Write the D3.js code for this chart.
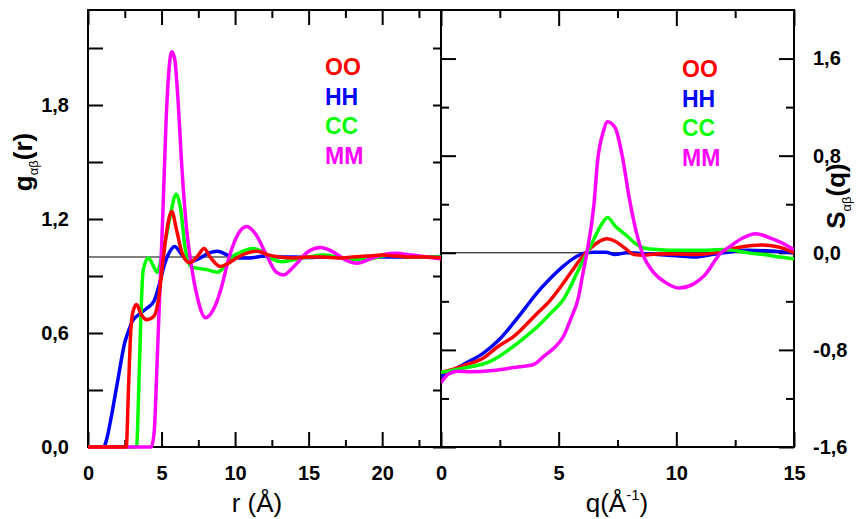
<!DOCTYPE html>
<html>
<head>
<meta charset="utf-8">
<script src="https://cdnjs.cloudflare.com/ajax/libs/d3/7.8.5/d3.min.js"></script>
<style>
body { margin: 0; background: #fff; }
</style>
</head>
<body>
<div class="wrapper"></div>
<script>
// g(r) curves, [r, g]
var gOO = [[0,0],[2.6,0],[2.75,0.3],[2.9,0.6],[3.05,0.71],[3.3,0.75],[3.6,0.7],[4.0,0.67],[4.5,0.69],[4.8,0.78],[5.1,0.98],[5.4,1.16],[5.7,1.24],[6.0,1.15],[6.4,1.02],[6.9,0.97],[7.4,1.0],[7.9,1.045],[8.3,1.0],[9.0,0.95],[9.5,0.965],[10.0,0.99],[10.8,1.02],[11.5,1.03],[12.3,1.01],[13,1.0],[14,0.995],[15,1.0],[16,1.0],[17,0.995],[18,1.0],[19,1.005],[20,1.01],[21,1.005],[22,1.0],[23,1.0],[24,0.995]];
var gHH = [[0,0],[1.05,0],[1.3,0.05],[1.5,0.125],[2.0,0.34],[2.5,0.55],[2.8,0.62],[3.0,0.66],[3.5,0.7],[4.0,0.73],[4.5,0.77],[4.9,0.87],[5.2,0.96],[5.5,1.02],[5.9,1.055],[6.3,1.02],[6.9,0.975],[7.5,0.99],[8.2,1.02],[8.8,1.03],[9.5,1.01],[10.3,0.995],[11,0.995],[12,1.005],[13,1.0],[14,1.0],[15,0.998],[16,1.0],[18,0.995],[20,1.0],[22,1.0],[24,1.0]];
var gCC = [[0,0],[3.3,0],[3.45,0.3],[3.6,0.7],[3.75,0.93],[4.1,0.995],[4.4,0.96],[4.7,0.92],[5.0,1.0],[5.3,1.1],[5.6,1.22],[6.0,1.33],[6.3,1.25],[6.6,1.05],[7.0,0.95],[7.5,0.94],[8.0,0.935],[8.8,0.92],[9.3,0.95],[9.8,1.0],[10.5,1.03],[11.2,1.045],[11.8,1.03],[12.5,0.99],[13.2,0.975],[14,0.985],[15,1.0],[16,1.01],[17,1.0],[18.5,0.985],[19.5,0.995],[20.5,1.01],[22,1.0],[24,1.0]];
var gMM = [[0,0],[4.3,0],[4.5,0.08],[4.7,0.45],[4.9,0.85],[5.1,1.25],[5.3,1.7],[5.5,1.98],[5.7,2.08],[5.9,2.04],[6.1,1.85],[6.4,1.45],[6.7,1.15],[7.0,0.97],[7.4,0.8],[8.0,0.68],[8.5,0.72],[9.0,0.82],[9.6,1.0],[10.2,1.12],[10.8,1.16],[11.4,1.12],[12.2,1.0],[12.8,0.92],[13.3,0.905],[14.0,0.95],[15.0,1.03],[15.8,1.05],[16.6,1.03],[17.5,0.985],[18.3,0.967],[19.2,0.99],[20.2,1.015],[20.9,1.02],[22,1.01],[23,1.0],[24,0.99]];

// S(q) curves, [q, S]
var sOO = [[0,-0.985],[0.5,-0.96],[0.95,-0.93],[1.8,-0.867],[2.44,-0.77],[3.08,-0.69],[4.08,-0.5],[4.6,-0.4],[5.2,-0.25],[5.6,-0.14],[5.92,-0.055],[6.3,0.03],[6.7,0.09],[7.05,0.115],[7.4,0.095],[7.8,0.04],[8.2,-0.014],[8.6,-0.02],[9.2,-0.01],[10,-0.01],[10.8,-0.015],[11.5,-0.005],[12.2,0.025],[12.8,0.05],[13.6,0.065],[14.3,0.05],[15,0.0]];
var sHH = [[0,-1.02],[0.5,-0.97],[0.95,-0.92],[1.8,-0.826],[2.5,-0.71],[3.08,-0.578],[3.6,-0.45],[4.08,-0.33],[4.6,-0.22],[5.2,-0.11],[5.6,-0.05],[6.06,-0.005],[6.5,0.005],[7.0,0.005],[7.4,-0.014],[7.9,0.0],[8.5,-0.005],[9.2,-0.015],[10,-0.025],[10.8,-0.035],[11.5,-0.015],[12.2,0.005],[13,0.02],[14,0.015],[15,0.0]];
var sCC = [[0,-0.985],[0.95,-0.95],[2.09,-0.895],[3.08,-0.77],[3.6,-0.69],[4.2,-0.59],[4.7,-0.49],[5.2,-0.385],[5.5,-0.28],[5.78,-0.165],[6.21,0.0],[6.49,0.11],[6.78,0.22],[7.08,0.29],[7.4,0.22],[7.9,0.14],[8.3,0.07],[8.62,0.04],[9.3,0.025],[10,0.02],[11,0.02],[12,0.027],[12.6,0.015],[13.2,-0.005],[13.7,-0.014],[14.4,-0.035],[15,-0.05]];
var sMM = [[0,-1.07],[0.3,-1.0],[0.7,-0.975],[1.23,-0.98],[2.2,-0.97],[3.1,-0.945],[3.93,-0.92],[4.36,-0.854],[4.8,-0.785],[5.2,-0.69],[5.5,-0.55],[5.85,-0.36],[6.0,-0.2],[6.2,0.0],[6.5,0.4],[6.65,0.75],[6.9,1.0],[7.08,1.08],[7.4,1.03],[7.7,0.8],[8.0,0.45],[8.3,0.17],[8.55,0.0],[9.05,-0.165],[9.5,-0.24],[10.1,-0.29],[10.7,-0.26],[11.18,-0.19],[11.9,0.0],[12.3,0.055],[12.8,0.12],[13.38,0.157],[14.0,0.12],[14.5,0.08],[15,0.025]];

var names = ["OO", "HH", "CC", "MM"];
var colors = {OO: "#ff0000", HH: "#0000ff", CC: "#00ff00", MM: "#ff00ff"};

var rMajor = [0, 5, 10, 15, 20], rMinor = [2.5, 7.5, 12.5, 17.5, 22.5];
var gMajor = [0, 0.6, 1.2, 1.8], gMinor = [0.3, 0.9, 1.5, 2.1];
var qMajor = [0, 5, 10, 15], qMinor = [2.5, 7.5, 12.5];
var sMajor = [-1.6, -0.8, 0, 0.8, 1.6], sMinor = [-1.2, -0.4, 0.4, 1.2];

var FONT = "'Liberation Sans', Arial, Helvetica, sans-serif";
var yTop = 10, yBot = 447;

function comma(v) {
    return (v < 0 ? "-" : "") + Math.abs(v).toFixed(1).replace(".", ",");
}

var svg = d3.select(".wrapper").append("svg")
    .attr("width", 860)
    .attr("height", 519)
    .style("display", "block");

var x1 = d3.scaleLinear().domain([0, 24]).range([88, 441]);
var y1 = d3.scaleLinear().domain([0, 2.3]).range([yBot, yTop]);
var x2 = d3.scaleLinear().domain([0, 15]).range([441, 794]);
var y2 = d3.scaleLinear().domain([-1.6, 2.0]).range([yBot, yTop]);

function axisStyle(sel) {
    sel.select(".domain").remove();
    sel.attr("font-family", FONT).attr("font-size", 20).attr("font-weight", "bold");
    sel.selectAll(".tick line").attr("stroke", "#000").attr("stroke-width", 2);
    sel.selectAll(".tick text").attr("fill", "#000");
}

function addAxis(axis, tx, ty) {
    svg.append("g")
        .attr("transform", "translate(" + tx + "," + ty + ")")
        .call(axis)
        .call(axisStyle);
}

// left panel axes
addAxis(d3.axisBottom(x1).tickValues(rMajor).tickSize(-15).tickPadding(19).tickFormat(d3.format("d")), 0, yBot);
addAxis(d3.axisBottom(x1).tickValues(rMinor).tickSize(-7).tickFormat(""), 0, yBot);
addAxis(d3.axisTop(x1).tickValues(rMajor).tickSize(-15).tickFormat(""), 0, yTop);
addAxis(d3.axisTop(x1).tickValues(rMinor).tickSize(-8).tickFormat(""), 0, yTop);
addAxis(d3.axisLeft(y1).tickValues(gMajor).tickSize(-15).tickPadding(19).tickFormat(comma), 88, 0);
addAxis(d3.axisLeft(y1).tickValues(gMinor).tickSize(-15).tickFormat(""), 88, 0);
addAxis(d3.axisRight(y1).tickValues(gMajor.concat(gMinor)).tickSize(-8).tickFormat(""), 441, 0);

// right panel axes
addAxis(d3.axisBottom(x2).tickValues(qMajor).tickSize(-15).tickPadding(19).tickFormat(d3.format("d")), 0, yBot);
addAxis(d3.axisBottom(x2).tickValues(qMinor).tickSize(-7).tickFormat(""), 0, yBot);
addAxis(d3.axisTop(x2).tickValues(qMajor).tickSize(-16).tickFormat(""), 0, yTop);
addAxis(d3.axisTop(x2).tickValues(qMinor).tickSize(-8).tickFormat(""), 0, yTop);
addAxis(d3.axisRight(y2).tickValues(sMajor).tickSize(-15).tickPadding(19).tickFormat(comma), 794, 0);
addAxis(d3.axisRight(y2).tickValues(sMinor).tickSize(-8).tickFormat(""), 794, 0);
addAxis(d3.axisLeft(y2).tickValues(sMajor).tickSize(-15).tickFormat(""), 441, 0);
addAxis(d3.axisLeft(y2).tickValues(sMinor).tickSize(-8).tickFormat(""), 441, 0);

// clip regions (a little slack so lines lying on the axis keep full width)
var defs = svg.append("defs");
defs.append("clipPath").attr("id", "clipL").append("rect")
    .attr("x", 88).attr("y", yTop - 3).attr("width", 441 - 88).attr("height", yBot - yTop + 6);
defs.append("clipPath").attr("id", "clipR").append("rect")
    .attr("x", 441).attr("y", yTop - 3).attr("width", 794 - 441).attr("height", yBot - yTop + 6);

// reference lines g=1 and S=0
svg.append("line")
    .attr("x1", x1(0)).attr("x2", x1(24))
    .attr("y1", y1(1)).attr("y2", y1(1))
    .attr("stroke", "#000").attr("stroke-width", 1);
svg.append("line")
    .attr("x1", x2(0)).attr("x2", x2(15))
    .attr("y1", y2(0)).attr("y2", y2(0))
    .attr("stroke", "#000").attr("stroke-width", 1);

var lineL = d3.line().x(function(d) { return x1(d[0]); }).y(function(d) { return y1(d[1]); }).curve(d3.curveMonotoneX);
var lineR = d3.line().x(function(d) { return x2(d[0]); }).y(function(d) { return y2(d[1]); }).curve(d3.curveMonotoneX);

var left = {OO: gOO, HH: gHH, CC: gCC, MM: gMM};
var right = {OO: sOO, HH: sHH, CC: sCC, MM: sMM};

// frames
svg.append("rect")
    .attr("x", 88).attr("y", yTop).attr("width", 441 - 88).attr("height", yBot - yTop)
    .attr("fill", "none").attr("stroke", "#000").attr("stroke-width", 2);
svg.append("rect")
    .attr("x", 441).attr("y", yTop).attr("width", 794 - 441).attr("height", yBot - yTop)
    .attr("fill", "none").attr("stroke", "#000").attr("stroke-width", 2);

svg.append("g").attr("clip-path", "url(#clipL)")
    .selectAll("path")
    .data(["HH", "CC", "MM", "OO"])
    .enter().append("path")
    .attr("d", function(k) { return lineL(left[k]); })
    .attr("fill", "none")
    .attr("stroke", function(k) { return colors[k]; })
    .attr("stroke-width", 3.5)
    .attr("stroke-linejoin", "round");

svg.append("g").attr("clip-path", "url(#clipR)")
    .selectAll("path")
    .data(["HH", "OO", "CC", "MM"])
    .enter().append("path")
    .attr("d", function(k) { return lineR(right[k]); })
    .attr("fill", "none")
    .attr("stroke", function(k) { return colors[k]; })
    .attr("stroke-width", 3.5)
    .attr("stroke-linejoin", "round");

// legends
function legend(x0, y0) {
    svg.append("g")
        .selectAll("text")
        .data(names)
        .enter().append("text")
        .attr("x", x0)
        .attr("y", function(d, i) { return y0 + i * 29.5; })
        .attr("font-family", FONT)
        .attr("font-size", 23)
        .attr("font-weight", "bold")
        .attr("fill", function(d) { return colors[d]; })
        .text(function(d) { return d; });
}
legend(325, 75);
legend(682, 77);

// axis titles
var gt = svg.append("text")
    .attr("transform", "translate(32,162)rotate(-90)")
    .attr("text-anchor", "middle")
    .attr("font-family", FONT).attr("font-size", 26).attr("font-weight", "bold");
gt.append("tspan").text("g");
gt.append("tspan").attr("font-size", 13).attr("font-weight", "normal").attr("dy", 6).text("αβ");
gt.append("tspan").attr("dy", -6).text("(r)");

var st = svg.append("text")
    .attr("transform", "translate(845,196)rotate(-90)")
    .attr("text-anchor", "middle")
    .attr("font-family", FONT).attr("font-size", 26).attr("font-weight", "bold");
st.append("tspan").text("S");
st.append("tspan").attr("font-size", 13).attr("font-weight", "normal").attr("dy", 6).text("αβ");
st.append("tspan").attr("dy", -6).text("(q)");

svg.append("text")
    .attr("x", 257).attr("y", 512)
    .attr("text-anchor", "middle")
    .attr("font-family", FONT).attr("font-size", 26)
    .text("r (Å)");

var qt = svg.append("text")
    .attr("x", 617).attr("y", 512)
    .attr("text-anchor", "middle")
    .attr("font-family", FONT).attr("font-size", 26);
qt.append("tspan").text("q(Å");
qt.append("tspan").attr("font-size", 15).attr("dy", -12).text("-1");
qt.append("tspan").attr("dy", 12).text(")");
</script>
</body>
</html>
